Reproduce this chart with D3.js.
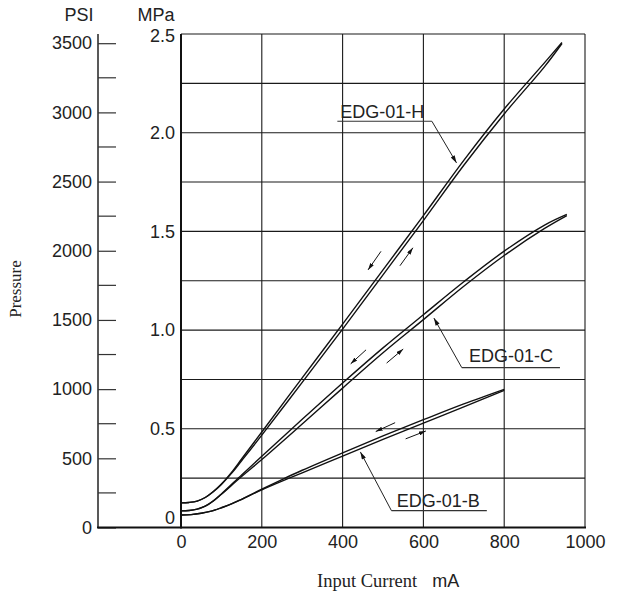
<!DOCTYPE html>
<html><head><meta charset="utf-8">
<script src="https://cdn.jsdelivr.net/npm/d3@7/dist/d3.min.js"></script>
<style>body{margin:0;background:#fff}svg{display:block}</style>
</head><body>
<script>
// ---- data ----
const xTicks = [0, 200, 400, 600, 800, 1000];
const mpaTicks = [0, 0.5, 1.0, 1.5, 2.0, 2.5];
const mpaTickLabels = ["0", "0.5", "1.0", "1.5", "2.0", "2.5"];
const mpaGrid = [0.25, 0.5, 0.75, 1.0, 1.25, 1.5, 1.75, 2.0, 2.25, 2.5];
const psiTicks = [0, 500, 1000, 1500, 2000, 2500, 3000, 3500];
const psiMinor = [250, 750, 1250, 1750, 2250, 2750, 3250];

const hCurrent = [0, 20, 40, 60, 80, 100, 125, 150, 200, 300, 400, 500, 600, 700, 800, 900, 943];
const hDown = [0.125, 0.127, 0.134, 0.152, 0.182, 0.22, 0.279, 0.347, 0.484, 0.758, 1.03, 1.305, 1.58, 1.86, 2.12, 2.355, 2.457];
const hUp   = [0.125, 0.127, 0.134, 0.152, 0.181, 0.218, 0.274, 0.338, 0.468, 0.735, 1.005, 1.28, 1.555, 1.835, 2.095, 2.335, 2.452];

const cCurrent = [0, 20, 40, 60, 80, 100, 150, 200, 300, 400, 500, 600, 700, 800, 900, 955];
const cDown = [0.084, 0.086, 0.093, 0.108, 0.135, 0.17, 0.266, 0.361, 0.548, 0.732, 0.91, 1.078, 1.245, 1.4, 1.532, 1.586];
const cUp   = [0.084, 0.086, 0.093, 0.108, 0.134, 0.168, 0.258, 0.344, 0.524, 0.706, 0.885, 1.053, 1.222, 1.378, 1.515, 1.58];

const bCurrent = [0, 25, 50, 75, 100, 125, 150, 200, 250, 300, 400, 500, 600, 700, 800];
const bDown = [0.063, 0.065, 0.072, 0.083, 0.1, 0.12, 0.143, 0.194, 0.243, 0.29, 0.378, 0.464, 0.546, 0.626, 0.70];
const bUp   = [0.063, 0.065, 0.072, 0.083, 0.1, 0.12, 0.143, 0.191, 0.235, 0.277, 0.362, 0.446, 0.529, 0.611, 0.695];

// direction arrows [fromCurrent, fromMPa, toCurrent, toMPa]
const dirArrows = [
  [495, 1.399, 463, 1.305], [542, 1.326, 574, 1.417],
  [458, 0.900, 420, 0.829], [509, 0.833, 550, 0.904],
  [530, 0.531, 482, 0.486], [556, 0.449, 606, 0.489]
];
// labels: text position, underline, leader tip (mA, MPa)
const labels = [
  {name: "EDG-01-H", tx: 394, ty: 2.075, u1: 387, u2: 621, uy: 2.058, lx: 621, px: 682, py: 1.847},
  {name: "EDG-01-C", tx: 713, ty: 0.836, u1: 695, u2: 938, uy: 0.810, lx: 695, px: 626, py: 1.061},
  {name: "EDG-01-B", tx: 534, ty: 0.105, u1: 521, u2: 757, uy: 0.085, lx: 521, px: 444, py: 0.383}
];

// ---- drawing ----
const W = 618, H = 595;
const svg = d3.select("body").append("svg").attr("width", W).attr("height", H);
const x = d3.scaleLinear().domain([0, 1000]).range([181, 585]);
const y = d3.scaleLinear().domain([0, 2.5]).range([527.5, 34]);
const yPsi = d3.scaleLinear().domain([0, 3500]).range([527.5, 43.2]);
const sans = "'Liberation Sans', Arial, sans-serif";
const serif = "'Liberation Serif', 'Times New Roman', serif";

const defs = svg.append("defs");
defs.append("marker").attr("id", "ah").attr("viewBox", "0 0 10 6")
  .attr("refX", 10).attr("refY", 3).attr("markerWidth", 7).attr("markerHeight", 4.2)
  .attr("markerUnits", "userSpaceOnUse").attr("orient", "auto")
  .append("path").attr("d", "M0,0 L10,3 L0,6 Z").attr("fill", "#111");
defs.append("marker").attr("id", "ah2").attr("viewBox", "0 0 10 6")
  .attr("refX", 10).attr("refY", 3).attr("markerWidth", 10).attr("markerHeight", 4.5)
  .attr("markerUnits", "userSpaceOnUse").attr("orient", "auto")
  .append("path").attr("d", "M0,0 L10,3 L0,6 Z").attr("fill", "#111");

// grid
const grid = svg.append("g").attr("stroke", "#1a1a1a").attr("stroke-width", 1.1).attr("fill", "none");
grid.selectAll(".v").data(xTicks.slice(1)).join("line")
  .attr("x1", d => x(d)).attr("x2", d => x(d)).attr("y1", y(0)).attr("y2", y(2.5));
grid.selectAll(".h").data(mpaGrid).join("line")
  .attr("x1", x(0)).attr("x2", x(1000)).attr("y1", d => y(d)).attr("y2", d => y(d));

// MPa axis
svg.append("line").attr("x1", x(0)).attr("x2", x(0)).attr("y1", y(0) + 1).attr("y2", y(2.5))
  .attr("stroke", "#111").attr("stroke-width", 2);
const mpaAxis = d3.axisLeft(y).tickValues(mpaTicks).tickSize(0).tickPadding(6)
  .tickFormat((d, i) => mpaTickLabels[i]);
const gm = svg.append("g").attr("transform", `translate(${x(0)},0)`).call(mpaAxis);
gm.select(".domain").remove();
gm.selectAll("text").attr("font-family", sans).attr("font-size", 18).attr("fill", "#222")
  .attr("dy", d => d === 0 ? "-0.2em" : (d === 2.5 ? "0.4em" : "0.32em"));

// PSI axis
const psiX = 98;
svg.append("line").attr("x1", psiX).attr("x2", psiX).attr("y1", y(0)).attr("y2", y(2.5))
  .attr("stroke", "#222").attr("stroke-width", 1.5);
const psiAxis = d3.axisRight(yPsi).tickValues(psiTicks).tickSize(18).tickFormat(d3.format("d"));
const gp = svg.append("g").attr("transform", `translate(${psiX},0)`).call(psiAxis);
gp.select(".domain").remove();
gp.selectAll(".tick line").attr("stroke", "#333").attr("stroke-width", 1.2);
gp.selectAll("text").attr("x", -6).attr("text-anchor", "end")
  .attr("font-family", sans).attr("font-size", 18).attr("fill", "#222");
svg.append("g").selectAll("line").data(psiMinor).join("line")
  .attr("x1", psiX).attr("x2", psiX + 18).attr("y1", d => yPsi(d)).attr("y2", d => yPsi(d))
  .attr("stroke", "#333").attr("stroke-width", 1.2);

// x axis
svg.append("line").attr("x1", psiX - 1).attr("x2", x(1000) + 1).attr("y1", y(0)).attr("y2", y(0))
  .attr("stroke", "#111").attr("stroke-width", 2);
const xAxis = d3.axisBottom(x).tickValues(xTicks).tickSize(0).tickPadding(8).tickFormat(d3.format("d"));
const gx = svg.append("g").attr("transform", `translate(0,${y(0)})`).call(xAxis);
gx.select(".domain").remove();
gx.selectAll("text").attr("font-family", sans).attr("font-size", 18).attr("fill", "#222");

// unit labels
svg.append("text").attr("x", 79).attr("y", 21).attr("text-anchor", "middle")
  .attr("font-family", sans).attr("font-size", 18).attr("fill", "#222").text("PSI");
svg.append("text").attr("x", 156).attr("y", 21).attr("text-anchor", "middle")
  .attr("font-family", sans).attr("font-size", 18).attr("fill", "#222").text("MPa");

// axis titles
const xt = svg.append("text").attr("x", 317).attr("y", 587).attr("fill", "#222");
xt.append("tspan").attr("font-family", serif).attr("font-size", 18.5).text("Input Current");
xt.append("tspan").attr("font-family", sans).attr("font-size", 18).attr("dx", 15).text("mA");
svg.append("text").attr("transform", "translate(21,289) rotate(-90)").attr("text-anchor", "middle")
  .attr("font-family", serif).attr("font-size", 17).attr("fill", "#222").text("Pressure");

// curves
const line = d3.line().x(d => x(d[0])).y(d => y(d[1])).curve(d3.curveCatmullRom.alpha(0.5));
const series = [
  [hCurrent, hDown], [hCurrent, hUp],
  [cCurrent, cDown], [cCurrent, cUp],
  [bCurrent, bDown], [bCurrent, bUp]
];
svg.append("g").selectAll("path").data(series).join("path")
  .attr("d", s => line(s[0].map((c, i) => [c, s[1][i]])))
  .attr("fill", "none").attr("stroke", "#111").attr("stroke-width", 1.4);

// direction arrows
svg.append("g").selectAll("line").data(dirArrows).join("line")
  .attr("x1", d => x(d[0])).attr("y1", d => y(d[1])).attr("x2", d => x(d[2])).attr("y2", d => y(d[3]))
  .attr("stroke", "#111").attr("stroke-width", 1).attr("marker-end", "url(#ah)");

// labels
const lg = svg.append("g");
labels.forEach(l => {
  lg.append("text").attr("x", x(l.tx)).attr("y", y(l.ty)).attr("font-family", sans)
    .attr("font-size", 18).attr("fill", "#222").text(l.name);
  lg.append("line").attr("x1", x(l.u1)).attr("x2", x(l.u2)).attr("y1", y(l.uy)).attr("y2", y(l.uy))
    .attr("stroke", "#333").attr("stroke-width", 1.2);
  lg.append("line").attr("x1", x(l.lx)).attr("y1", y(l.uy)).attr("x2", x(l.px)).attr("y2", y(l.py))
    .attr("stroke", "#222").attr("stroke-width", 1).attr("marker-end", "url(#ah2)");
});
</script>
</body></html>
